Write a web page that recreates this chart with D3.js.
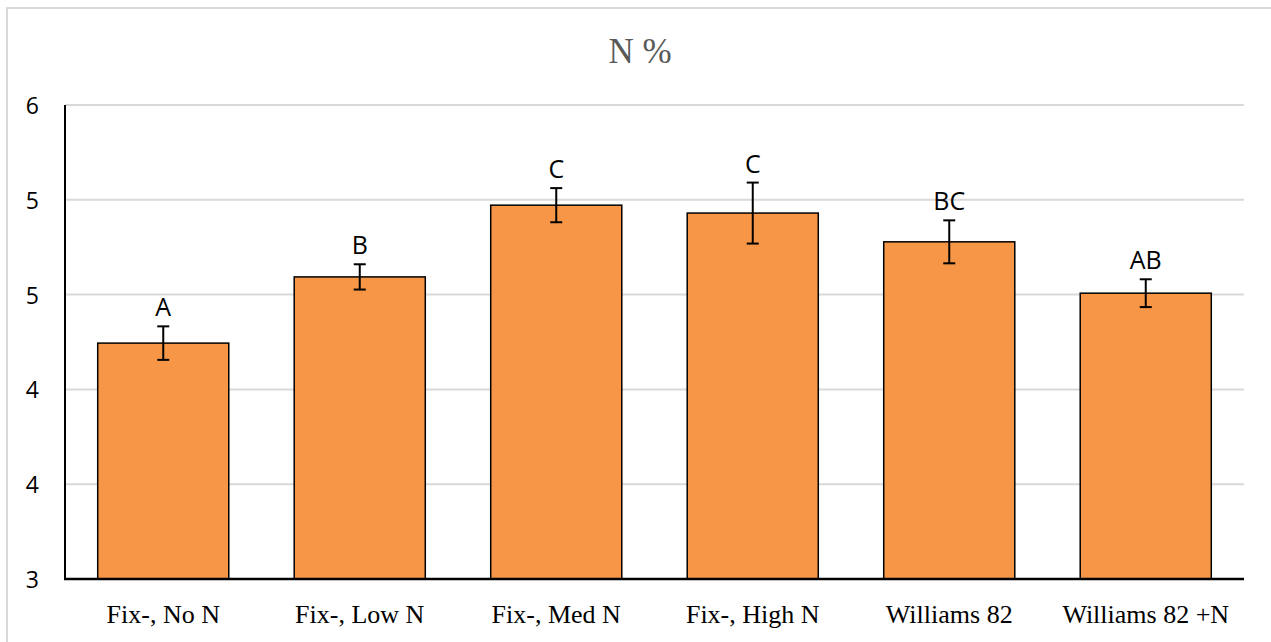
<!DOCTYPE html>
<html>
<head>
<meta charset="utf-8">
<script src="https://cdn.jsdelivr.net/npm/d3@7"></script>
<style>
  body { margin: 0; background: #fff; }
  svg { display: block; }
</style>
</head>
<body>
<svg id="chart" width="1271" height="642"></svg>
<script>
// data
const categories = ["Fix-, No N", "Fix-, Low N", "Fix-, Med N", "Fix-, High N", "Williams 82", "Williams 82 +N"];
const values = [4.493, 4.912, 5.366, 5.316, 5.134, 4.809];
const errors = [0.106, 0.080, 0.108, 0.193, 0.136, 0.088];
const letters = ["A", "B", "C", "C", "BC", "AB"];
const yTicks = [3, 3.6, 4.2, 4.8, 5.4, 6];

const svg = d3.select('#chart');
const margin = { top: 105, right: 27, bottom: 63, left: 65 };
const width = 1271, height = 642;

// outer chart border (only top/left visible in the reference)
svg.append('rect')
  .attr('x', 7).attr('y', 8)
  .attr('width', 1290).attr('height', 660)
  .attr('fill', 'none')
  .attr('stroke', '#d9d9d9')
  .attr('stroke-width', 2);

const x = d3.scaleBand()
  .domain(categories)
  .range([margin.left, width - margin.right])
  .paddingInner(0.333)
  .paddingOuter(0.1665);

const y = d3.scaleLinear()
  .domain([3, 6])
  .range([height - margin.bottom, margin.top]);

// gridlines
svg.append('g')
  .selectAll('line')
  .data(yTicks)
  .join('line')
  .attr('x1', margin.left).attr('x2', width - margin.right)
  .attr('y1', d => y(d)).attr('y2', d => y(d))
  .attr('stroke', '#d9d9d9')
  .attr('stroke-width', 2);

// title
svg.append('text')
  .attr('x', 640).attr('y', 63)
  .attr('text-anchor', 'middle')
  .attr('font-family', 'Liberation Serif')
  .attr('font-size', 35)
  .attr('fill', '#595959')
  .text('N %');

// bars
svg.append('g')
  .selectAll('rect')
  .data(categories)
  .join('rect')
  .attr('x', d => x(d))
  .attr('y', (d, i) => y(values[i]))
  .attr('width', x.bandwidth())
  .attr('height', (d, i) => y(3) - y(values[i]))
  .attr('fill', '#f79646')
  .attr('stroke', '#000')
  .attr('stroke-width', 1.5);

// error bars
const eb = svg.append('g').attr('stroke', '#000').attr('stroke-width', 2);
categories.forEach((c, i) => {
  const cx = x(c) + x.bandwidth() / 2;
  eb.append('line')
    .attr('x1', cx).attr('x2', cx)
    .attr('y1', y(values[i] + errors[i])).attr('y2', y(values[i] - errors[i]));
  [values[i] + errors[i], values[i] - errors[i]].forEach(v => {
    eb.append('line')
      .attr('x1', cx - 6).attr('x2', cx + 6)
      .attr('y1', y(v)).attr('y2', y(v));
  });
});

// significance letters
svg.append('g')
  .selectAll('text')
  .data(categories)
  .join('text')
  .attr('x', d => x(d) + x.bandwidth() / 2)
  .attr('y', (d, i) => y(values[i] + errors[i]) - 10)
  .attr('text-anchor', 'middle')
  .attr('font-family', 'Open Sans')
  .attr('font-size', 25)
  .attr('fill', '#000')
  .text((d, i) => letters[i]);

// axes lines
svg.append('line')
  .attr('x1', margin.left).attr('x2', margin.left)
  .attr('y1', y(6)).attr('y2', y(3))
  .attr('stroke', '#000').attr('stroke-width', 2);
svg.append('line')
  .attr('x1', margin.left - 1).attr('x2', width - margin.right)
  .attr('y1', y(3)).attr('y2', y(3))
  .attr('stroke', '#000').attr('stroke-width', 2.5);

// y tick labels (values shown rounded, as in the source)
const fmt = d3.format('.0f');
svg.append('g')
  .selectAll('text')
  .data(yTicks)
  .join('text')
  .attr('x', 39)
  .attr('y', d => y(d) + 9)
  .attr('text-anchor', 'end')
  .attr('font-family', 'Open Sans')
  .attr('font-size', 23)
  .attr('fill', '#000')
  .text(d => fmt(d));

// category labels
svg.append('g')
  .selectAll('text')
  .data(categories)
  .join('text')
  .attr('x', d => x(d) + x.bandwidth() / 2)
  .attr('y', 623)
  .attr('text-anchor', 'middle')
  .attr('font-family', 'Liberation Serif')
  .attr('font-size', 26)
  .attr('fill', '#000')
  .text(d => d);
</script>
</body>
</html>
